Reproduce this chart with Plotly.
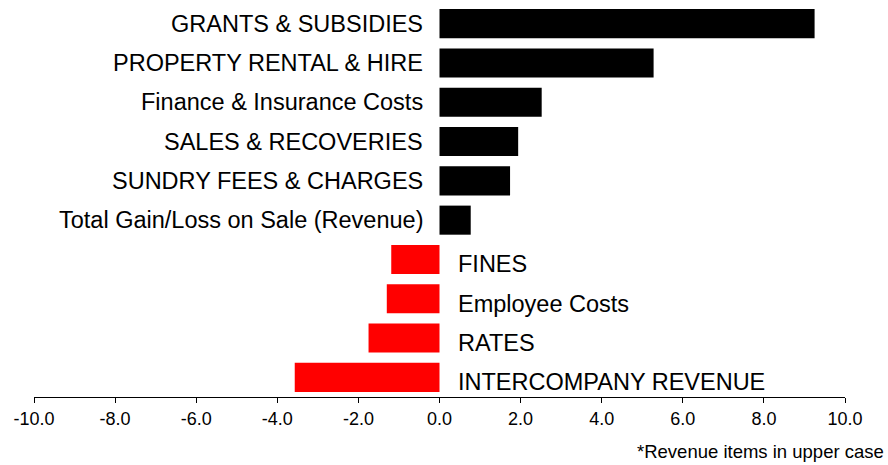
import plotly.graph_objects as go

categories = [
    "GRANTS & SUBSIDIES",
    "PROPERTY RENTAL & HIRE",
    "Finance & Insurance Costs",
    "SALES & RECOVERIES",
    "SUNDRY FEES & CHARGES",
    "Total Gain/Loss on Sale (Revenue)",
    "FINES",
    "Employee Costs",
    "RATES",
    "INTERCOMPANY REVENUE",
]
values = [9.25, 5.28, 2.52, 1.94, 1.74, 0.77, -1.19, -1.30, -1.75, -3.57]
tick_values = [-10, -8, -6, -4, -2, 0, 2, 4, 6, 8, 10]
tick_labels = [f"{v:.1f}" for v in tick_values]

FONT = "Liberation Sans, Arial, sans-serif"
colors = ["#000000" if v >= 0 else "#FF0000" for v in values]

fig = go.Figure()
fig.add_trace(go.Bar(
    x=values,
    y=categories,
    orientation="h",
    marker=dict(color=colors, line=dict(width=0)),
    hoverinfo="x+y",
))

annotations = []
for cat, v in zip(categories, values):
    annotations.append(dict(
        x=0, y=cat, xref="x", yref="y",
        text=cat, showarrow=False,
        xanchor="right" if v >= 0 else "left",
        xshift=-15 if v >= 0 else 16,
        yshift=0 if v >= 0 else -5,
        font=dict(family=FONT, size=23.5, color="#000000"),
    ))
annotations.append(dict(
    x=1.0, y=0.0, xref="paper", yref="paper",
    xanchor="right", yanchor="middle",
    text="*Revenue items in upper case", showarrow=False,
    font=dict(family=FONT, size=18.5, color="#000000"),
    xshift=41, yshift=-54,
))

fig.update_layout(
    width=888, height=465,
    margin=dict(l=34, r=43, t=4, b=68),
    paper_bgcolor="white", plot_bgcolor="white",
    showlegend=False,
    bargap=0.26,
    annotations=annotations,
    xaxis=dict(
        range=[-10, 10],
        tickvals=tick_values, ticktext=tick_labels,
        showline=True, linecolor="#000000", linewidth=1,
        ticks="outside", ticklen=5, tickcolor="#000000",
        showgrid=False, zeroline=False,
        tickfont=dict(family=FONT, size=18, color="#000000"),
    ),
    yaxis=dict(
        autorange="reversed",
        showticklabels=False, showgrid=False, zeroline=False,
        showline=False, ticks="",
    ),
)

fig.write_html(
    "out.html",
    config={"displayModeBar": False},
    post_script="document.body.style.margin='0';",
)
